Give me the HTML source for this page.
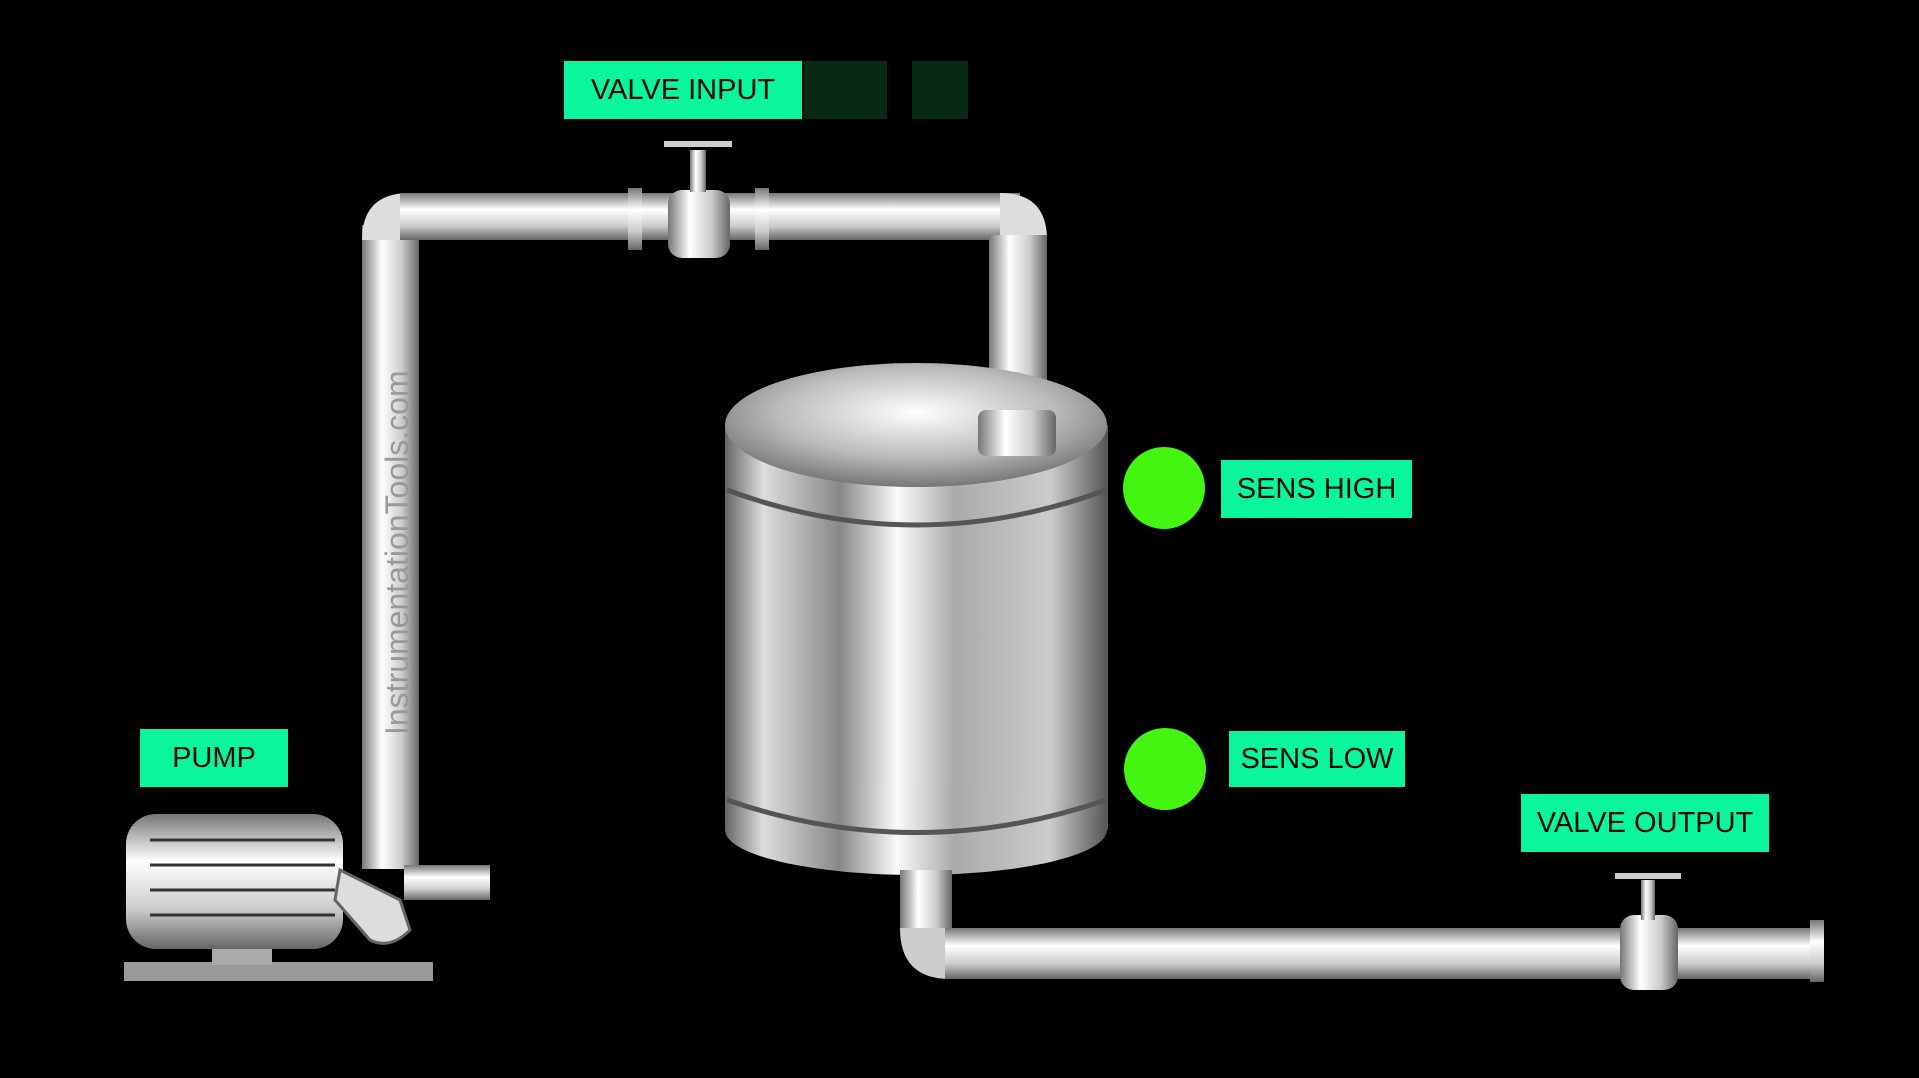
<!DOCTYPE html>
<html><head><meta charset="utf-8"><style>
html,body{margin:0;padding:0;background:#000;width:1919px;height:1078px;overflow:hidden}
.lbl{position:absolute;background:#0af59c;color:#0a0a0a;font-family:"Liberation Sans",sans-serif;font-size:29px;display:flex;align-items:center;justify-content:center}
</style></head><body>
<svg width="1919" height="1078" style="position:absolute;left:0;top:0">
<defs>
<linearGradient id="pv" x1="0" x2="1" y1="0" y2="0">
<stop offset="0" stop-color="#777"/><stop offset="0.35" stop-color="#fff"/><stop offset="0.7" stop-color="#ccc"/><stop offset="1" stop-color="#666"/></linearGradient>
<linearGradient id="ph" x1="0" x2="0" y1="0" y2="1">
<stop offset="0" stop-color="#777"/><stop offset="0.35" stop-color="#fff"/><stop offset="0.7" stop-color="#ccc"/><stop offset="1" stop-color="#666"/></linearGradient>
<linearGradient id="tk" x1="0" x2="1">
<stop offset="0" stop-color="#666"/><stop offset="0.1" stop-color="#ddd"/><stop offset="0.3" stop-color="#888"/><stop offset="0.45" stop-color="#fafafa"/><stop offset="0.6" stop-color="#aaa"/><stop offset="0.85" stop-color="#ccc"/><stop offset="1" stop-color="#555"/></linearGradient>
<radialGradient id="lid" cx="0.5" cy="0.4" r="0.6">
<stop offset="0" stop-color="#fff"/><stop offset="0.6" stop-color="#bbb"/><stop offset="1" stop-color="#777"/></radialGradient>
</defs>
<!-- top pipe -->
<rect x="362" y="225" width="57" height="644" fill="url(#pv)"/>
<path d="M362 240 Q362 193 410 193 L410 240 Z" fill="#ddd"/>
<rect x="400" y="193" width="620" height="47" fill="url(#ph)"/>
<path d="M1000 193 Q1047 193 1047 240 L1000 240Z" fill="#ddd"/>
<rect x="989" y="235" width="58" height="190" fill="url(#pv)"/>
<!-- input valve -->
<rect x="628" y="188" width="14" height="62" fill="url(#ph)"/>
<rect x="755" y="188" width="14" height="62" fill="url(#ph)"/>
<rect x="668" y="190" width="62" height="68" rx="14" fill="url(#pv)"/>
<rect x="690" y="150" width="16" height="42" fill="url(#pv)"/>
<rect x="664" y="141" width="68" height="6" fill="#ccc"/>
<!-- tank -->
<rect x="725" y="425" width="383" height="405" fill="url(#tk)"/>
<ellipse cx="916" cy="830" rx="191" ry="45" fill="url(#tk)"/>
<ellipse cx="916" cy="425" rx="191" ry="62" fill="url(#lid)"/>
<path d="M727 490 Q916 560 1106 490" stroke="#555" stroke-width="5" fill="none"/>
<path d="M727 800 Q916 865 1106 800" stroke="#555" stroke-width="5" fill="none"/>
<rect x="978" y="410" width="78" height="46" rx="8" fill="url(#pv)"/>
<!-- bottom pipe -->
<rect x="900" y="870" width="52" height="60" fill="url(#pv)"/>
<path d="M900 928 Q900 979 950 979 L950 928Z" fill="#ccc"/>
<rect x="945" y="928" width="870" height="51" fill="url(#ph)"/>
<rect x="1810" y="920" width="14" height="62" fill="url(#ph)"/>
<rect x="1620" y="915" width="58" height="75" rx="14" fill="url(#pv)"/>
<rect x="1641" y="880" width="14" height="40" fill="url(#pv)"/>
<rect x="1615" y="873" width="66" height="6" fill="#ccc"/>
<!-- pump -->
<rect x="124" y="962" width="309" height="19" fill="#999"/>
<rect x="212" y="935" width="60" height="30" fill="#aaa"/>
<rect x="126" y="814" width="217" height="135" rx="30" fill="url(#ph)"/>
<g stroke="#333" stroke-width="3">
<line x1="150" y1="840" x2="335" y2="840"/><line x1="150" y1="865" x2="335" y2="865"/><line x1="150" y1="890" x2="335" y2="890"/><line x1="150" y1="915" x2="335" y2="915"/></g>
<path d="M340 870 L400 900 L410 930 Q390 950 370 940 L335 900Z" fill="#ddd" stroke="#666" stroke-width="3"/>
<rect x="404" y="865" width="86" height="35" fill="url(#ph)"/>
<text x="0" y="0" transform="translate(408 735) rotate(-90)" font-family="Liberation Sans,sans-serif" font-size="32" fill="#999">InstrumentationTools.com</text>
<circle cx="1164" cy="488" r="41" fill="#44f511"/>
<circle cx="1165" cy="769" r="41" fill="#44f511"/>
<rect x="804" y="61" width="83" height="58" fill="#062a14"/>
<rect x="912" y="61" width="56" height="58" fill="#062a14"/>
</svg>
<div class="lbl" style="left:564px;top:61px;width:238px;height:58px">VALVE INPUT</div>
<div class="lbl" style="left:140px;top:729px;width:148px;height:58px">PUMP</div>
<div class="lbl" style="left:1221px;top:460px;width:191px;height:58px">SENS HIGH</div>
<div class="lbl" style="left:1229px;top:731px;width:176px;height:56px">SENS LOW</div>
<div class="lbl" style="left:1521px;top:794px;width:248px;height:58px">VALVE OUTPUT</div>
</body></html>
